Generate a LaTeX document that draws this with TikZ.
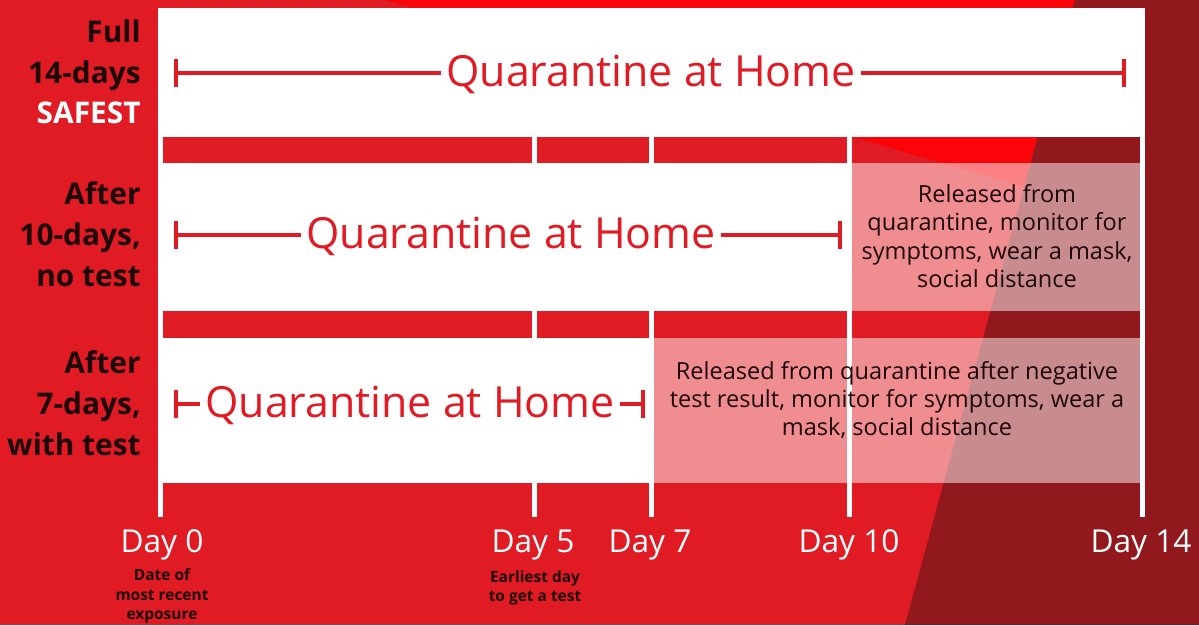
\documentclass[tikz,border=0pt]{standalone}
\usepackage{fontspec}
\setmainfont{Open Sans}
\usetikzlibrary{calc}
\definecolor{bgred}{RGB}{224,27,36}
\definecolor{hotred}{RGB}{250,4,10}
\definecolor{darkred}{RGB}{145,25,30}
\definecolor{inkdark}{RGB}{30,6,8}
\tikzset{
  qtext/.style={text=bgred, inner sep=3pt, text height=15.9pt, text depth=0pt,
    font=\fontsize{24.4}{29}\selectfont},
  qline/.style={draw=bgred, line width=0.08cm},
  rowlab/.style={anchor=east, align=right, text=inkdark, inner sep=0pt,
    font=\bfseries\fontsize{17}{23.2}\selectfont},
  daylab/.style={text=white, inner sep=0pt, font=\fontsize{18}{22}\selectfont},
  sublab/.style={text=inkdark, align=center, inner sep=0pt,
    font=\bfseries\fontsize{8.8}{11.3}\selectfont},
  reltext/.style={text=inkdark, align=center, inner sep=0pt,
    font=\fontsize{13.4}{16.2}\selectfont},
}
\newcommand{\qspan}[5]{% quarantine span #1 at height #2, from x=#3 to x=#4,
  % label centred at x=#5
  \coordinate (#1-l) at (#3,#2);
  \coordinate (#1-r) at (#4,#2);
  \node[qtext] (#1) at (#5,#2) {Quarantine at Home};
  \draw[qline] (#1-l) -- (#1.west);
  \draw[qline] (#1.east) -- (#1-r);
  \draw[qline] ($(#1-l)+(0,-14)$) -- ($(#1-l)+(0,14)$);
  \draw[qline] ($(#1-r)+(0,-14)$) -- ($(#1-r)+(0,14)$);
}

\begin{document}
\begin{tikzpicture}[x=0.02cm,y=-0.02cm]
  \useasboundingbox (0,0) rectangle (1199,625);
  % background
  \fill[bgred] (0,0) rectangle (1199,625);
  \fill[hotred] (385,0) -- (1075,0) -- (1024,187) -- cycle;
  \fill[darkred] (1075,0) -- (1199,0) -- (1199,625) -- (905,625) -- cycle;
  % white rows, the bars between them let the background through
  \fill[white] (158,8) rectangle (1145,137);
  \fill[white] (158,163) rectangle (849.5,311);
  \fill[white] (158,338) rectangle (651.5,483);
  \fill[white, opacity=0.5] (849.5,163) rectangle (1142,311);
  \fill[white, opacity=0.5] (651.5,338) rectangle (1142,483);
  \foreach \x in {160.5,534.5,651.5,849.5,1142.5}
    \draw[white, line width=0.1cm] (\x,8) -- (\x,517);

  \node[rowlab] (full) at (141,72) {Full\\14-days\\\textcolor{white}{SAFEST}};
  \node[rowlab] (ten) at (141,234) {After\\10-days,\\no test};
  \node[rowlab] (seven) at (141,403) {After\\7-days,\\with test};

  \qspan{q14}{73}{176}{1124}{651}
  \qspan{q10}{235}{176}{840}{511}
  \qspan{q7}{404}{176}{643}{410}

  \node[reltext] (rel10) at (997,236) {Released from\\quarantine, monitor for\\symptoms, wear a mask,\\social distance};
  \node[reltext] (rel7) at (897,400) {Released from quarantine after negative\\test result, monitor for symptoms, wear a\\mask, social distance};

  \node[daylab] (d0) at (162,545) {Day 0};
  \node[daylab] (d5) at (533,545) {Day 5};
  \node[daylab] (d7) at (650,545) {Day 7};
  \node[daylab] (d10) at (849,545) {Day 10};
  \node[daylab] (d14) at (1141,545) {Day 14};
  \node[sublab] (expo) at (162,596) {Date of\\most recent\\exposure};
  \node[sublab] (test) at (535,588) {Earliest day\\to get a test};
\end{tikzpicture}
\end{document}
